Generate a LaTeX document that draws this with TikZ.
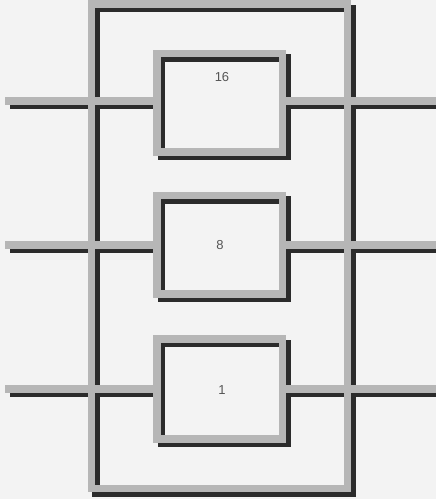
\documentclass[tikz,border=0pt]{standalone}
\usepackage{fontspec}
\setmainfont{Liberation Sans}
\definecolor{bargray}{HTML}{B6B6B6}
\definecolor{shade}{HTML}{2B2B2B}
\definecolor{paper}{HTML}{F3F3F3}
\definecolor{ink}{HTML}{555555}
\tikzset{
  bar/.style={line width=7.5pt, draw=bargray, line join=miter, line cap=butt},
  barshadow/.style={line width=7.5pt, draw=shade, line join=miter, line cap=butt},
  num/.style={font=\fontsize{13}{13}\selectfont, text=ink, inner sep=0pt}
}
\begin{document}
\begin{tikzpicture}[x=1pt,y=-1pt]
\fill[paper] (0,0) rectangle (436,499);
\useasboundingbox (0,0) rectangle (436,499);
% frame and boxes as named coordinates
\coordinate (fTL) at (91.5,4);
\coordinate (fBR) at (347.5,488.5);
\coordinate (b1TL) at (157,53.5);  \coordinate (b1BR) at (282.5,152);
\coordinate (b2TL) at (157,195.5); \coordinate (b2BR) at (282.5,294);
\coordinate (b3TL) at (157,339);   \coordinate (b3BR) at (282.5,439);
% lead end points
\foreach \i/\y in {1/101,2/245,3/389}{
  \coordinate (inL\i) at (5,\y);
  \coordinate (fL\i) at (91.5,\y);
  \coordinate (bL\i) at (157,\y);
  \coordinate (bR\i) at (282.5,\y);
  \coordinate (fR\i) at (347.5,\y);
  \coordinate (outR\i) at (436,\y);
}
% shadows first, then the gray bars on top
\begin{scope}[transform canvas={shift={(4.5pt,-4.5pt)}}]
  \draw[barshadow] (fTL) rectangle (fBR);
  \foreach \i in {1,2,3}{
    \draw[barshadow] (b\i TL) rectangle (b\i BR);
    \draw[barshadow] (inL\i) -- (fL\i);
    \draw[barshadow] (fL\i) -- (bL\i);
    \draw[barshadow] (bR\i) -- (fR\i);
    \draw[barshadow] (fR\i) -- (outR\i);
  }
\end{scope}
\draw[bar] (fTL) rectangle (fBR);
\foreach \i in {1,2,3}{
  \draw[bar] (b\i TL) rectangle (b\i BR);
  \draw[bar] (inL\i) -- (fL\i);
  \draw[bar] (fL\i) -- (bL\i);
  \draw[bar] (bR\i) -- (fR\i);
  \draw[bar] (fR\i) -- (outR\i);
}
\node[num] (n16) at (222,77) {16};
\node[num] (n8) at (220,245) {8};
\node[num] (n1) at (222,390) {1};
\end{tikzpicture}
\end{document}
